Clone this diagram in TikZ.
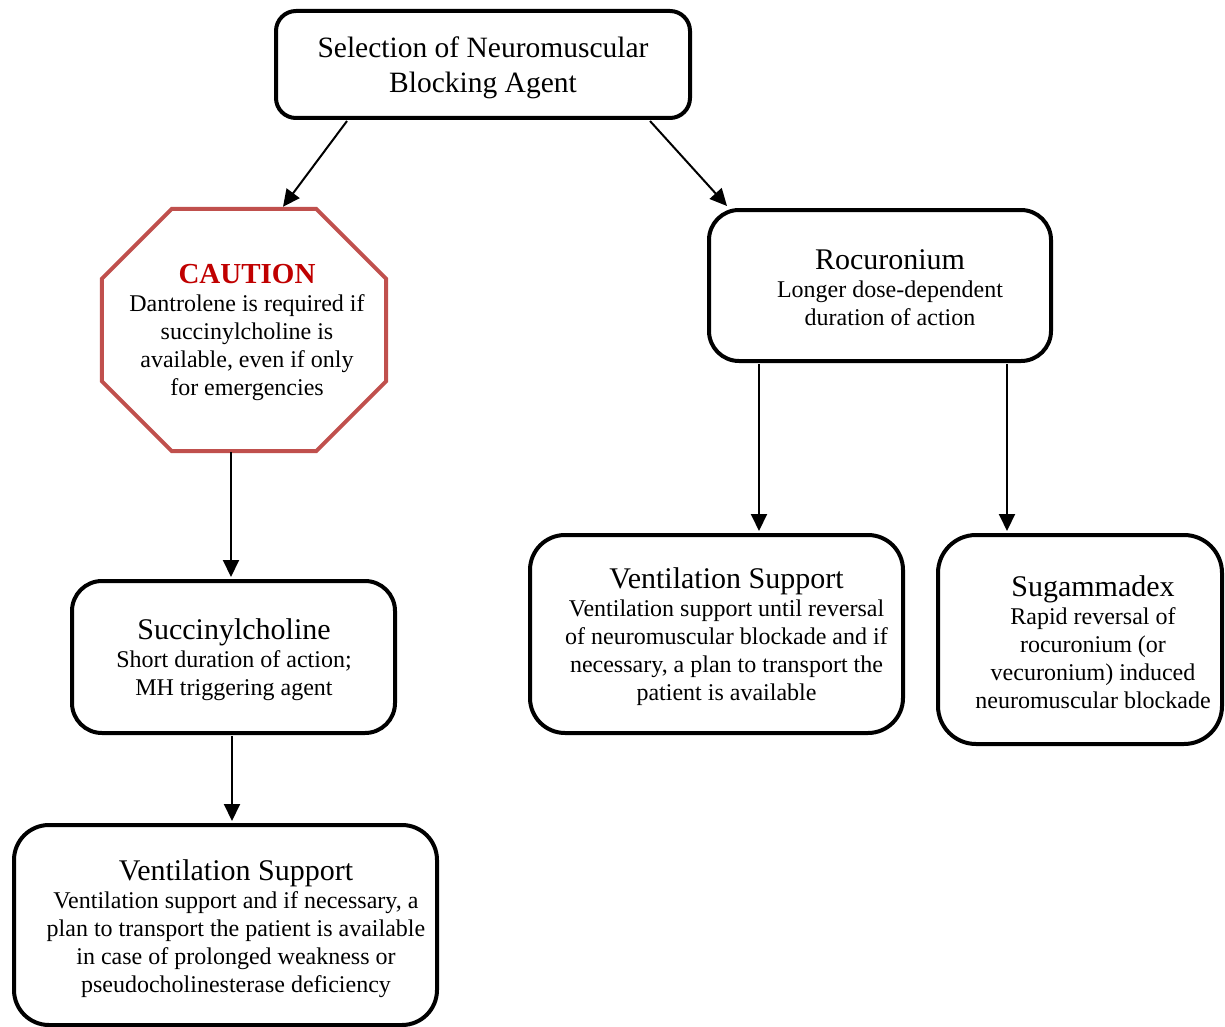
\documentclass[tikz,border=0pt]{standalone}
\usepackage{fontspec}
\setmainfont{Liberation Serif}
\usetikzlibrary{arrows.meta}
\definecolor{octred}{HTML}{C0504D}
\definecolor{cautred}{HTML}{C00000}
\tikzset{
  box/.style={draw=black, line width=4pt, rounded corners=30pt, fill=white, inner sep=0pt},
  txt/.style={align=center, inner sep=0pt, font=\fontsize{24}{28}\selectfont},
  arr/.style={line width=2pt, -{Triangle[length=17pt,width=16pt]}},
  octline/.style={draw=octred, line width=4pt, line join=miter},
}
\newcommand{\hdtext}[1]{{\fontsize{30}{28}\selectfont #1}}
\begin{document}
\begin{tikzpicture}[x=1pt,y=-1pt]
\useasboundingbox (0,0) rectangle (1225,1027);
% boxes
\node[box, rounded corners=20pt, minimum width=414pt, minimum height=107pt] (top) at (483,64.5) {};
\node[txt, font=\fontsize{29.5}{35}\selectfont] (toptext) at (483,68)
  {Selection of Neuromuscular\\Blocking Agent};
\node[inner sep=0pt, minimum width=284pt, minimum height=242pt] (oct) at (244,330) {};
\draw[octline] ([xshift=70pt]oct.north west) -- ([xshift=-70pt]oct.north east)
  -- ([yshift=-70pt]oct.north east) -- ([yshift=70pt]oct.south east)
  -- ([xshift=-70pt]oct.south east) -- ([xshift=70pt]oct.south west)
  -- ([yshift=70pt]oct.south west) -- ([yshift=-70pt]oct.north west) -- cycle;
\node[txt] (octtext) at (247,332)
  {{\fontsize{29}{28}\selectfont\bfseries\color{cautred}CAUTION}\\Dantrolene is required if\\succinylcholine is\\available, even if only\\for emergencies};
\node[box, minimum width=342pt, minimum height=151pt] (roc) at (880,285.5) {};
\node[txt] (roctext) at (890,288)
  {\hdtext{Rocuronium}\\Longer dose-dependent\\duration of action};
\node[box, minimum width=323pt, minimum height=152pt] (succ) at (233.5,657) {};
\node[txt] (succtext) at (234,660)
  {\hdtext{Succinylcholine}\\Short duration of action;\\MH triggering agent};
\node[box, rounded corners=35pt, minimum width=423pt, minimum height=200pt] (ventl) at (225.5,925) {};
\node[txt] (ventltext) at (236,929)
  {\hdtext{Ventilation Support}\\Ventilation support and if necessary, a\\plan to transport the patient is available\\in case of prolonged weakness or\\pseudocholinesterase deficiency};
\node[box, rounded corners=35pt, minimum width=373pt, minimum height=198pt] (ventm) at (716.5,634) {};
\node[txt] (ventmtext) at (726.5,637)
  {\hdtext{Ventilation Support}\\Ventilation support until reversal\\of neuromuscular blockade and if\\necessary, a plan to transport the\\patient is available};
\node[box, rounded corners=38pt, minimum width=284pt, minimum height=209pt] (sug) at (1080,639.5) {};
\node[txt] (sugtext) at (1093,642)
  {\hdtext{Sugammadex}\\Rapid reversal of\\rocuronium (or\\vecuronium) induced\\neuromuscular blockade};
% connectors
\draw[arr] ([xshift=-136pt,yshift=-1pt]top.south) -- ([xshift=39pt,yshift=2pt]oct.north);
\draw[arr] ([xshift=167pt,yshift=-1pt]top.south) -- ([xshift=-153pt,yshift=2pt]roc.north);
\draw[arr] ([xshift=-13pt,yshift=-1pt]oct.south) -- ([xshift=-2.5pt,yshift=2pt]succ.north);
\draw[arr] ([xshift=-1.5pt,yshift=-1pt]succ.south) -- ([xshift=6.5pt,yshift=2pt]ventl.north);
\draw[arr] ([xshift=-121pt,yshift=-1pt]roc.south) -- ([xshift=42.5pt,yshift=2pt]ventm.north);
\draw[arr] ([xshift=127pt,yshift=-1pt]roc.south) -- ([xshift=-73pt,yshift=2pt]sug.north);
\end{tikzpicture}
\end{document}
